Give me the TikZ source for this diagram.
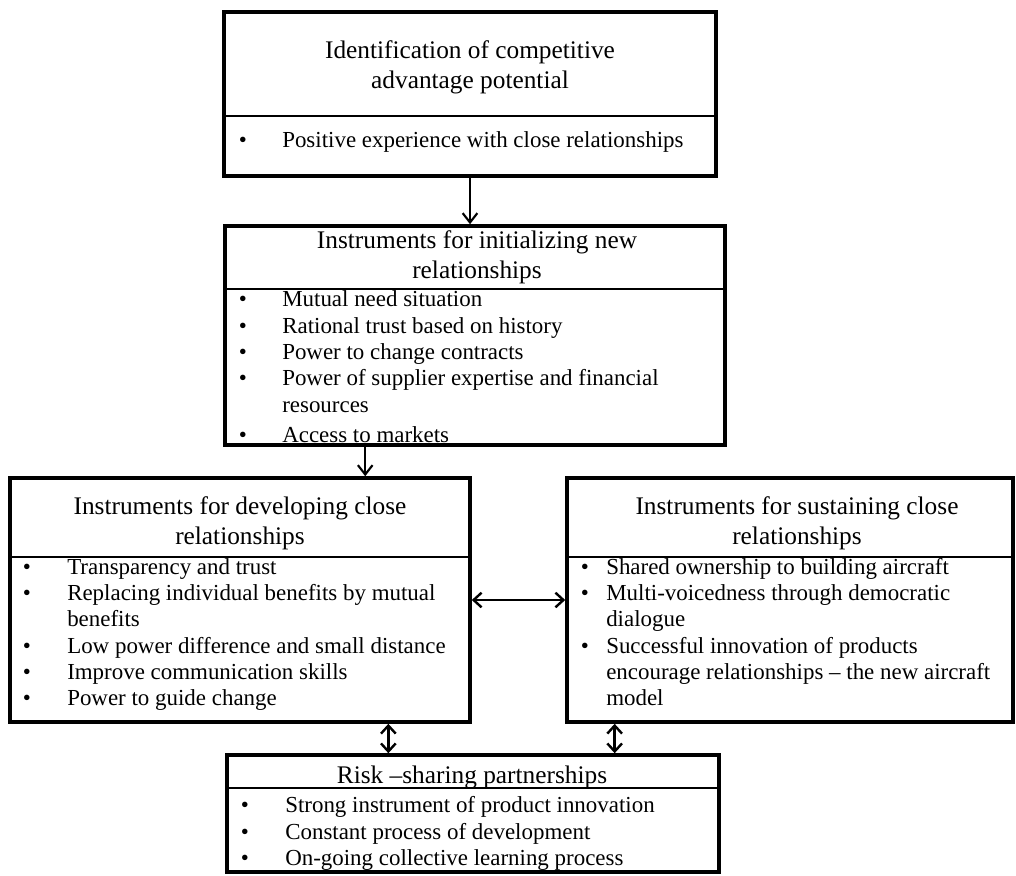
\documentclass[tikz,border=0pt]{standalone}
\usepackage{fontspec}
\setmainfont{Liberation Serif}
\usetikzlibrary{arrows.meta,positioning,fit,calc}

\tikzset{
  outerbox/.style={draw, line width=2.7pt, inner sep=0pt},
  divider/.style={line width=1.6pt},
  boxtitle/.style={align=center, font=\fontsize{19}{22.5}\selectfont, inner sep=0pt},
  item/.style={anchor=base west, font=\fontsize{17.2}{18}\selectfont, inner sep=0pt},
  dot/.style={anchor=base, font=\fontsize{17.2}{18}\selectfont, inner sep=0pt},
  link/.style={line width=1.6pt, -{Straight Barb[length=7pt,width=11pt,line width=1.6pt]}},
  twoway/.style={line width=1.8pt, {Straight Barb[length=6pt,width=11pt,line width=1.8pt]}-{Straight Barb[length=6pt,width=11pt,line width=1.8pt]}},
}

\begin{document}
\begin{tikzpicture}[x=0.75pt, y=-0.75pt]
\useasboundingbox (0,0) rectangle (1016,875);

% Boxes
\node[outerbox, fit={(224,12) (716,176)}] (idbox) {};
\node[outerbox, fit={(225,226) (725,445)}] (initbox) {};
\node[outerbox, fit={(10,478) (470,722)}] (devbox) {};
\node[outerbox, fit={(567,478) (1013,722)}] (sustbox) {};
\node[outerbox, fit={(227,755) (719,872)}] (riskbox) {};

% Titles
\node[boxtitle] (idtitle) at (470,67) {Identification of competitive\\advantage potential};
\node[boxtitle] (inittitle) at (477,257) {Instruments for initializing new\\relationships};
\node[boxtitle] (devtitle) at (240,523) {Instruments for developing close\\relationships};
\node[boxtitle] (susttitle) at (797,523) {Instruments for sustaining close\\relationships};
\node[boxtitle] (risktitle) at (472,777) {Risk --sharing partnerships};

% Items: identification
\node[dot] (iddot) at (243,147) {\textbullet};
\node[item] (iditem) at (282,147) {Positive experience with close relationships};

% Items: initializing
\foreach \y in {306,333,359,385,442}
  \node[dot] (initdot-\y) at (243,\y) {\textbullet};
\foreach \y/\t in {306/Mutual need situation, 333/Rational trust based on history,
    359/Power to change contracts, 385/Power of supplier expertise and financial,
    412/resources, 442/Access to markets}
  \node[item] (init-\y) at (282,\y) {\t};

% Items: developing
\foreach \y in {574,600,653,679,705}
  \node[dot] (devdot-\y) at (27,\y) {\textbullet};
\foreach \y/\t in {574/Transparency and trust, 600/Replacing individual benefits by mutual,
    626/benefits, 653/Low power difference and small distance,
    679/Improve communication skills, 705/Power to guide change}
  \node[item] (dev-\y) at (67,\y) {\t};

% Items: sustaining
\foreach \y in {574,600,653}
  \node[dot] (sustdot-\y) at (585,\y) {\textbullet};
\foreach \y/\t in {574/Shared ownership to building aircraft, 600/Multi-voicedness through democratic,
    626/dialogue, 653/Successful innovation of products,
    679/encourage relationships -- the new aircraft, 705/model}
  \node[item] (sust-\y) at (606,\y) {\t};

% Items: risk sharing
\foreach \y in {812,839,865}
  \node[dot] (riskdot-\y) at (245,\y) {\textbullet};
\foreach \y/\t in {812/Strong instrument of product innovation, 839/Constant process of development,
    865/On-going collective learning process}
  \node[item] (risk-\y) at (285,\y) {\t};

% Dividers
\draw[divider] (idbox.west |- 0,116) -- (idbox.east |- 0,116);
\draw[divider] (initbox.west |- 0,289) -- (initbox.east |- 0,289);
\draw[divider] (devbox.west |- 0,557) -- (devbox.east |- 0,557);
\draw[divider] (sustbox.west |- 0,557) -- (sustbox.east |- 0,557);
\draw[divider] (riskbox.west |- 0,788) -- (riskbox.east |- 0,788);

% Connectors
\draw[link] (idbox.south) -- (idbox.south |- initbox.north);
\draw[link] ($(initbox.south west)!0.282!(initbox.south east)$) coordinate (down)
  -- (down |- devbox.north);
\draw[twoway] (devbox.east) -- (sustbox.west);
\draw[twoway] ($(devbox.south west)!0.82!(devbox.south east)$) coordinate (devfoot)
  -- (devfoot |- riskbox.north);
\draw[twoway] ($(sustbox.south west)!0.11!(sustbox.south east)$) coordinate (sustfoot)
  -- (sustfoot |- riskbox.north);
\end{tikzpicture}
\end{document}
